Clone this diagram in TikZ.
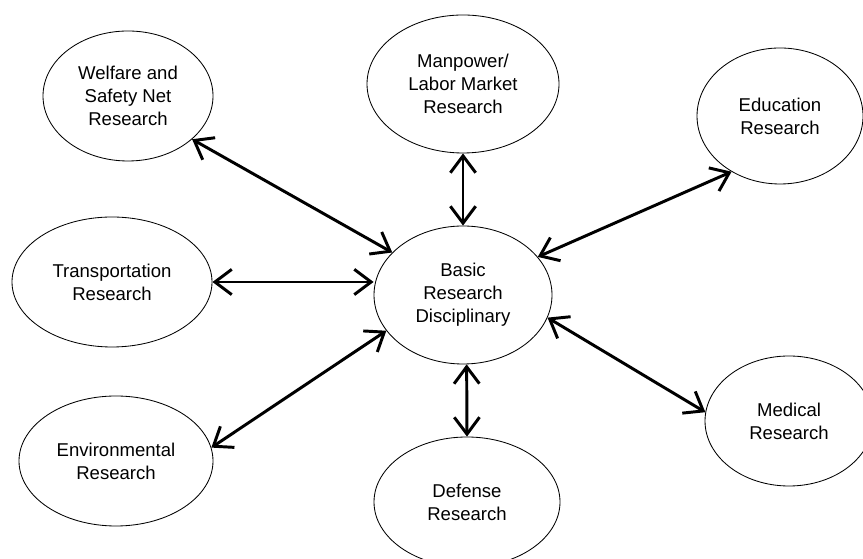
\documentclass[tikz,border=0pt]{standalone}
\usepackage{fontspec}
\setmainfont{Liberation Sans}
\usetikzlibrary{arrows.meta,shapes.geometric}

\begin{document}
\begin{tikzpicture}[
  topic/.style={ellipse, draw, line width=0.6pt, inner sep=0pt, align=center,
    font=\fontsize{13.2}{16.4}\selectfont},
  link/.style={{Straight Barb[length=12pt,width=18pt]}-{Straight Barb[length=12pt,width=18pt]},
    line width=2.1pt}]
  \useasboundingbox (0,0) rectangle (21.575,13.95);
  \node[topic, minimum width=4.45cm, minimum height=3.45cm] (bas) at (11.575,6.575)
    {Basic\\Research\\Disciplinary};
  \foreach \n/\x/\y/\w/\h/\t in {wel/3.2/11.55/4.25/3.25/{Welfare and\\Safety Net\\Research},
      man/11.575/11.85/4.8/3.45/{Manpower/\\Labor Market\\Research},
      edu/19.5/11.05/4.15/3.4/{Education\\Research},
      tra/2.8/6.9/5.0/3.25/{Transportation\\Research},
      env/2.9/2.425/4.85/3.25/{Environmental\\Research},
      def/11.675/1.4/4.65/3.25/{Defense\\Research},
      med/19.725/3.425/4.2/3.25/{Medical\\Research}}
    \node[topic, minimum width=\w cm, minimum height=\h cm] (\n) at (\x,\y) {\t};

  \foreach \a/\b in {wel.326/bas.149, man.270/bas.90, edu.229/bas.27,
      env.8/bas.205, def.90/bas.273, med.174/bas.345}
    \draw[link] (\a) -- (\b);
  \draw[link] (tra.east) -- (tra.east -| bas.west);
\end{tikzpicture}
\end{document}
